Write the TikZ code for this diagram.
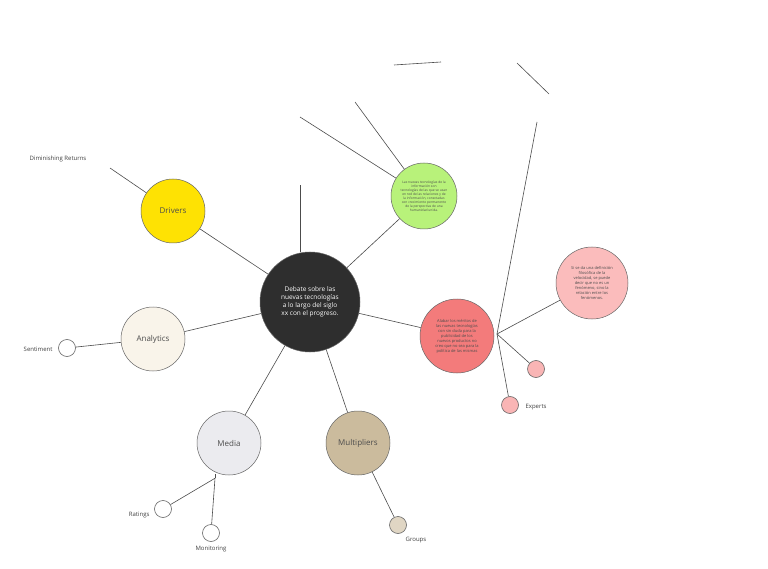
\documentclass[tikz,border=0pt]{standalone}
\usepackage{fontspec}
\setmainfont{Open Sans}
\begin{document}
\begin{tikzpicture}[x=1pt,y=-1pt,
  ln/.style={draw=black!70,line width=0.6pt},
  big/.style={circle,draw=black!60,line width=0.5pt,minimum size=64pt,inner sep=0pt,font=\fontsize{8}{9}\selectfont,text=black!70},
  sm/.style={circle,draw=black!60,line width=0.6pt,minimum size=17pt,inner sep=0pt},
  lab/.style={font=\fontsize{6}{7}\selectfont,text=black!75},
  tiny/.style={align=center,font=\fontsize{3.3}{4}\selectfont}]
\useasboundingbox (0,0) rectangle (768,569);
\fill[white] (0,0) rectangle (768,569);
\node[big,fill=black!82,minimum size=100pt,text=white,align=center,font=\fontsize{6.5}{8}\selectfont] (c) at (310,302) {Debate sobre las\\nuevas tecnologías\\a lo largo del siglo\\xx con el progreso.};
\node[big,fill=yellow!85!orange] (dr) at (173,211) {Drivers};
\node[big,fill={rgb,255:red,249;green,244;blue,234}] (an) at (153,339) {Analytics};
\node[big,fill={rgb,255:red,235;green,235;blue,239}] (me) at (229,443) {Media};
\node[big,fill={rgb,255:red,203;green,187;blue,157}] (mu) at (358,443) {Multipliers};
\node[big,fill={rgb,255:red,184;green,242;blue,122},minimum size=66pt,tiny] (gr) at (424,196) {Las nuevas tecnologías de la\\información son\\tecnologías de las que se usan\\en red de las relaciones y de\\la información, conectadas\\con crecimiento permanente\\de la perspectiva de una\\humanidad unida.};
\node[big,fill={rgb,255:red,243;green,123;blue,123},minimum size=74pt,tiny,font=\fontsize{4}{5}\selectfont] (re) at (457,336) {Alabar los méritos de\\las nuevas tecnologías\\con sin duda para la\\publicidad de los\\nuevos productos no\\creo que no sea para la\\política de las mismas};
\node[big,fill={rgb,255:red,251;green,188;blue,188},minimum size=72pt,tiny,font=\fontsize{4}{5}\selectfont] (pk) at (592,283) {Si se da una definición\\filosófica de la\\velocidad, se puede\\decir que no es un\\fenómeno, sino la\\relación entre los\\fenómenos.};
\node[sm,fill=white] (se) at (67,348) {};
\node[sm,fill=white] (ra) at (163,509) {};
\node[sm,fill=white] (mo) at (211,533) {};
\node[sm,fill={rgb,255:red,224;green,214;blue,196}] (gp) at (398,525) {};
\node[sm,fill={rgb,255:red,249;green,181;blue,181}] (s1) at (536,369) {};
\node[sm,fill={rgb,255:red,249;green,181;blue,181}] (ex) at (510,405) {};
\node[lab] (dlab) at (58,159) {Diminishing Returns};
\node[lab,anchor=east] (slab) at (56,349) {Sentiment};
\node[lab,anchor=east] (rlab) at (153,515) {Ratings};
\node[lab] (mlab) at (211,549) {Monitoring};
\node[lab] (glab) at (416,540) {Groups};
\node[lab,anchor=west] (elab) at (522,407) {Experts};
\coordinate (d0) at (110,168);
\coordinate (m0) at (215,475);
\coordinate (g1) at (300,117);
\coordinate (g2) at (355,102);
\coordinate (cu) at (300,185);
\coordinate (rt) at (537,122);
\coordinate (rb) at (497,334);
\coordinate (a1) at (394,65); \coordinate (a2) at (441,62);
\coordinate (b1) at (517,63); \coordinate (b2) at (549,94);
\begin{scope}[on background layer/.style={}]
\end{scope}
\draw[ln] (c) -- (dr); \draw[ln] (c) -- (an); \draw[ln] (c) -- (me);
\draw[ln] (c) -- (mu); \draw[ln] (c) -- (gr); \draw[ln] (c) -- (re);
\draw[ln] (c.north) ++(-10,0) -- (cu);
\draw[ln] (d0) -- (dr);
\draw[ln] (an) -- (se);
\draw[ln] (me.south) ++(-14,3) coordinate (mm) -- (ra);
\draw[ln] (mm) -- (mo); \draw[ln] (mm) -- ++(0,-4);
\draw[ln] (mu) -- (gp);
\draw[ln] (gr) -- (g1); \draw[ln] (gr) -- (g2);
\draw[ln] (rb) -- (pk); \draw[ln] (rb) -- (s1); \draw[ln] (rb) -- (ex); \draw[ln] (rb) -- (rt);
\draw[ln] (a1) -- (a2); \draw[ln] (b1) -- (b2);
\end{tikzpicture}
\end{document}
